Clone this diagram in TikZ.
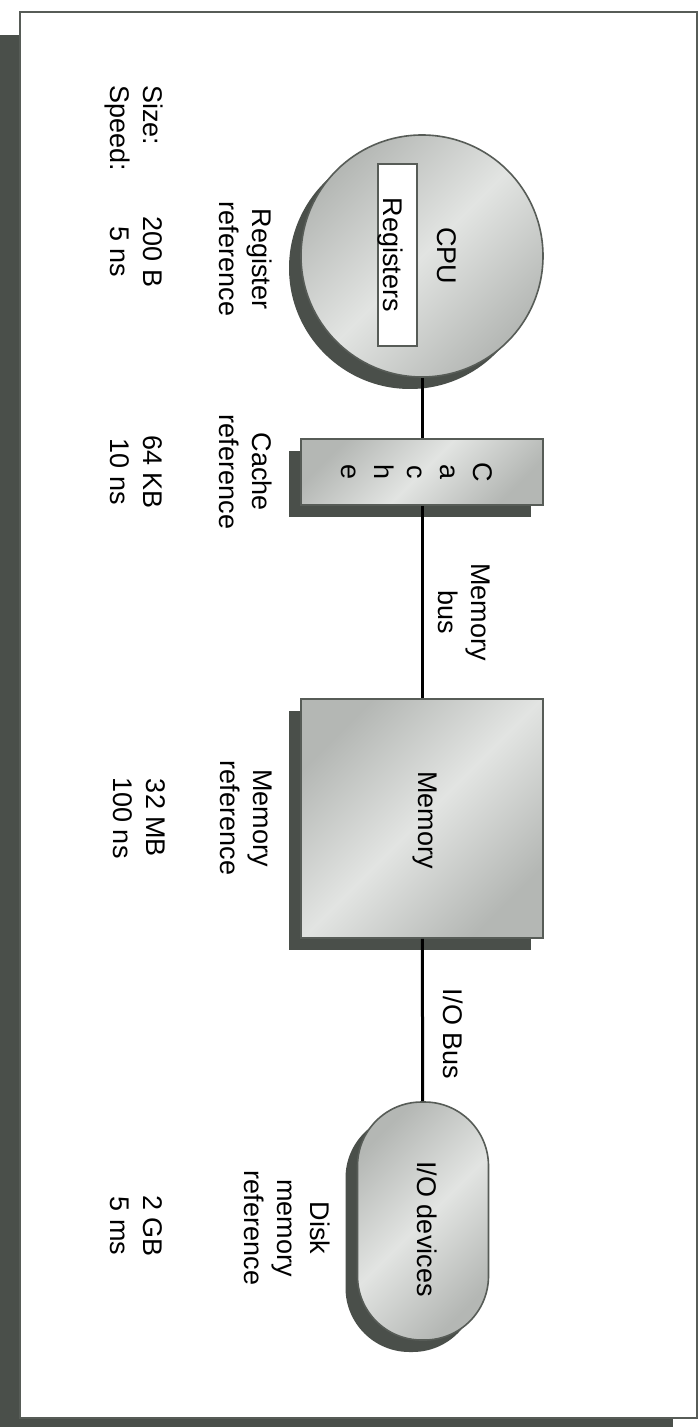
\documentclass[tikz,border=0pt]{standalone}
\usepackage{fontspec}
\setmainfont{Liberation Sans}
\usetikzlibrary{positioning,shadows}
\definecolor{memgray}{HTML}{4A4F4A}
\definecolor{memedge}{HTML}{575C57}
\definecolor{memmid}{HTML}{B4B7B4}
\definecolor{memlight}{HTML}{E2E4E2}
\begin{document}
\begin{tikzpicture}[x=0.5pt,y=-0.5pt, every node/.style={font=\fontsize{13.5}{16.5}\selectfont,align=center,inner sep=0pt}]
\tikzset{unit/.style={draw=memedge,line width=0.8pt,top color=memmid,bottom color=memmid,middle color=memlight,shading angle=45,drop shadow={shadow xshift=-6pt,shadow yshift=-6pt,fill=memgray,opacity=1}},
 tag/.style={rotate=-90,anchor=north},
 bus/.style={line width=1.5pt,black}}
\useasboundingbox (0,0) rectangle (700,1427);
% frame
\fill[memgray] (0,35) rectangle (673,1427);
\draw[memedge,line width=1pt,fill=white] (20,12) rectangle (697,1418);
% hierarchy
\node[unit,circle,minimum size=121pt] (cpu) at (422,256) {};
\node[draw=memedge,line width=0.8pt,fill=white,rotate=-90,minimum width=91pt,minimum height=19.5pt] (regs) at (397.5,255) {};
\node[tag] (cputext) at (457,256) {CPU};
\node[tag] (regstext) at (403,255) {Registers};
\node[unit,minimum width=121pt,minimum height=33pt] (cache) at (422,472) {};
\node[tag] (cachetext) at (493,472) {C\\a\\c\\h\\e};
\node[unit,minimum width=121pt,minimum height=119.5pt] (mem) at (422,818.5) {};
\node[tag] (memtext) at (437,820) {Memory};
\node[unit,rounded corners=32pt,minimum width=65.5pt,minimum height=119pt] (io) at (423,1221) {};
\node[tag] (iotext) at (437,1229) {I/O devices};
\draw[bus] (cpu) -- (cache);
\draw[bus] (cache) -- (mem);
\draw[bus] (mem) -- (io);
\node[tag] (membus) at (490,612) {Memory\\bus};
\node[tag] (iobus) at (463,1034) {I/O Bus};
% size and speed
\node[tag,anchor=north west,align=left] (rowhead) at (163,85) {Size:\\Speed:};
\node[tag] (regref) at (272,259) {Register\\reference};
\node[tag] (regval) at (163,252) {200 B\\5 ns};
\node[tag] (cacheref) at (272,472) {Cache\\reference};
\node[tag] (cacheval) at (163,472) {64 KB\\10 ns};
\node[tag] (memref) at (272,818) {Memory\\reference};
\node[tag] (memval) at (166,818) {32 MB\\100 ns};
\node[tag] (diskref) at (330,1228) {Disk\\memory\\reference};
\node[tag] (diskval) at (163,1226) {2 GB\\5 ms};
\end{tikzpicture}
\end{document}
